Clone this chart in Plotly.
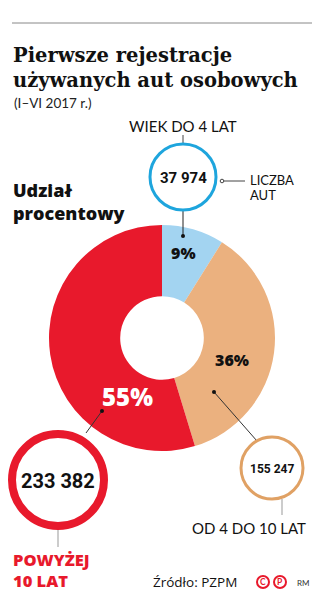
import plotly.graph_objects as go

W, H = 325, 605

categories = ["WIEK DO 4 LAT", "OD 4 DO 10 LAT", "POWYŻEJ 10 LAT"]
counts = [37974, 155247, 233382]
pct_labels = ["9%", "36%", "55%"]
slice_colors = ["#a3d4f1", "#ebb17f", "#e8192c"]
ring_colors = ["#1ea5dd", "#e0a164", "#e8192c"]

def fmt(n):
    return f"{n:,}".replace(",", " ")

fig = go.Figure()

# pie geometry (pixels)
cx, cy, R = 162, 338, 113
fig.add_trace(go.Pie(
    values=counts, labels=categories, sort=False, direction="clockwise", rotation=0,
    hole=0.37, marker=dict(colors=slice_colors, line=dict(width=0)),
    textinfo="none", hoverinfo="label+value+percent", showlegend=False,
    domain=dict(x=[(cx - R) / W, (cx + R) / W], y=[1 - (cy + R) / H, 1 - (cy - R) / H]),
))

fig.update_xaxes(range=[0, W], visible=False, fixedrange=True)
fig.update_yaxes(range=[H, 0], visible=False, fixedrange=True)

shapes = []
ann = []

def T(x, y, text, size, color="#111", family="Lato", weight=400, xanchor="left", yanchor="middle", align="left"):
    ann.append(dict(x=x, y=y, xref="x", yref="y", text=text, showarrow=False,
                    font=dict(size=size, color=color, family=family, weight=weight),
                    xanchor=xanchor, yanchor=yanchor, align=align))

def line(x0, y0, x1, y1, color="#222", width=1):
    shapes.append(dict(type="line", xref="x", yref="y", x0=x0, y0=y0, x1=x1, y1=y1,
                       line=dict(color=color, width=width)))

def circle(x, y, r, color, width, fill="white"):
    shapes.append(dict(type="circle", xref="x", yref="y", x0=x - r, y0=y - r, x1=x + r, y1=y + r,
                       line=dict(color=color, width=width), fillcolor=fill))

def dot(x, y, r=2):
    shapes.append(dict(type="circle", xref="x", yref="y", x0=x - r, y0=y - r, x1=x + r, y1=y + r,
                       fillcolor="#111", line=dict(width=0)))

HEAVY = "Open Sans"

# header
line(12, 23, 312, 23, "#888", 1)
T(11, 55, "Pierwsze rejestracje", 19.5, family="DejaVu Serif", weight=700)
T(11, 80, "używanych aut osobowych", 19.5, family="DejaVu Serif", weight=700)
T(12, 103, "(I–VI 2017 r.)", 13.5, color="#222", family="Lato")

T(11, 201, "Udział<br>procentowy", 18, family=HEAVY, weight=800)

# blue callout
bx, by, br = 183, 177, 33
T(bx, 126, "WIEK DO 4 LAT", 15, family="Lato", xanchor="center")
line(bx, 135, bx, by - br, "#444")
line(bx, by + br, bx, 236, "#222")
dot(bx, 236)
circle(bx, by, br, ring_colors[0], 3)
T(bx, by + 1, fmt(counts[0]), 15, family="Roboto", weight=700, xanchor="center")
circle(222, 181, 1.8, "#444", 1)
line(224, 181, 245, 181, "#444")
T(248, 180, "LICZBA", 13, family="Lato")
T(248, 195, "AUT", 13, family="Lato")

# percent labels
T(183, 253, pct_labels[0], 16, family=HEAVY, weight=800, xanchor="center")
T(232, 360, pct_labels[1], 16, family=HEAVY, weight=800, xanchor="center")
T(127, 396, pct_labels[2], 24, color="white", family=HEAVY, weight=800, xanchor="center")

# orange callout
ox, oy, orr = 272, 468, 31
line(214, 392, 257, 441, "#333")
dot(214, 392)
circle(ox, oy, orr, ring_colors[1], 3)
T(ox, oy + 1, fmt(counts[1]), 12, family="Roboto", weight=700, xanchor="center")
line(ox + 10, oy + orr, ox + 10, 515, "#999")
T(249, 528, "OD 4 DO 10 LAT", 15, family="Lato", xanchor="center")

# red callout
rx, ry, rr = 58, 480, 46
line(102, 411, 86, 433, "#333")
dot(102, 411)
circle(rx, ry, rr, ring_colors[2], 8)
T(rx, ry + 1, fmt(counts[2]), 20, family="Roboto", weight=700, xanchor="center")
line(rx, ry + 50, rx, 547, "#999")
T(11, 570, "POWYŻEJ<br>10 LAT", 16.5, color=ring_colors[2], family=HEAVY, weight=800)

# footer
T(151, 582, "Źródło: PZPM", 13.5, family="Open Sans")
circle(263, 582, 6, "#e8192c", 2, fill="rgba(0,0,0,0)")
circle(280, 582, 6, "#e8192c", 2, fill="rgba(0,0,0,0)")
T(263, 582, "C", 8.5, color="#e8192c", family="Lato", weight=700, xanchor="center")
T(280, 582, "P", 8.5, color="#e8192c", family="Lato", weight=700, xanchor="center")
T(295, 583, "RM", 8, color="#333", family="Lato")

fig.update_layout(
    width=W, height=H, margin=dict(l=0, r=0, t=0, b=0),
    paper_bgcolor="white", plot_bgcolor="white",
    shapes=shapes, annotations=ann, showlegend=False,
)

fig.write_html("out.html")
